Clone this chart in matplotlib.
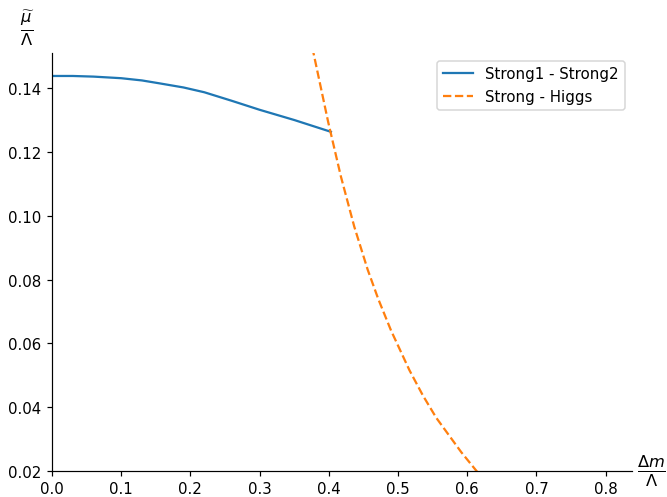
import matplotlib
matplotlib.use("Agg")
import matplotlib.pyplot as plt

# Strong1 - Strong2 boundary
s12_x = [0.0, 0.03, 0.06, 0.1, 0.13, 0.155, 0.19, 0.22, 0.26, 0.3, 0.35, 0.403]
s12_y = [0.1438, 0.1438, 0.1436, 0.1431, 0.1424, 0.1415, 0.1402, 0.1387, 0.1360, 0.1332, 0.1300, 0.1263]

# Strong - Higgs boundary
sh_x = [0.376, 0.3778, 0.399, 0.4174, 0.4367, 0.4561, 0.4714, 0.4899, 0.5164,
        0.5358, 0.5551, 0.5913, 0.6130, 0.6220]
sh_y = [0.1528, 0.1510, 0.1294, 0.1123, 0.0966, 0.0831, 0.0739, 0.0640, 0.0516,
        0.0437, 0.0367, 0.0259, 0.0201, 0.0178]

dpi = 108
fig = plt.figure(figsize=(667/dpi, 498/dpi), dpi=dpi)
ax = fig.add_axes([52/667, 1-472/498, (632-52)/667, (472-54)/498])
ax.plot(s12_x, s12_y, color="#1f77b4", label="Strong1 - Strong2")
ax.plot(sh_x, sh_y, color="#ff7f0e", linestyle="--", label="Strong - Higgs")
ax.set_xlim(0, 0.838)
ax.set_ylim(0.02, 0.151)
ax.set_xticks([0.0, 0.1, 0.2, 0.3, 0.4, 0.5, 0.6, 0.7, 0.8])
ax.set_yticks([0.02, 0.04, 0.06, 0.08, 0.10, 0.12, 0.14])
ax.spines["top"].set_visible(False)
ax.spines["right"].set_visible(False)
ax.legend(loc="upper right")
fig.text(27/667, 1-28/498, r"$\frac{\widetilde{\mu}}{\Lambda}$", fontsize=15.5, ha="center", va="center")
fig.text(651/667, 1-471/498, r"$\frac{\Delta m}{\Lambda}$", fontsize=15.5, ha="center", va="center")
fig.savefig("out.png", dpi=dpi)
